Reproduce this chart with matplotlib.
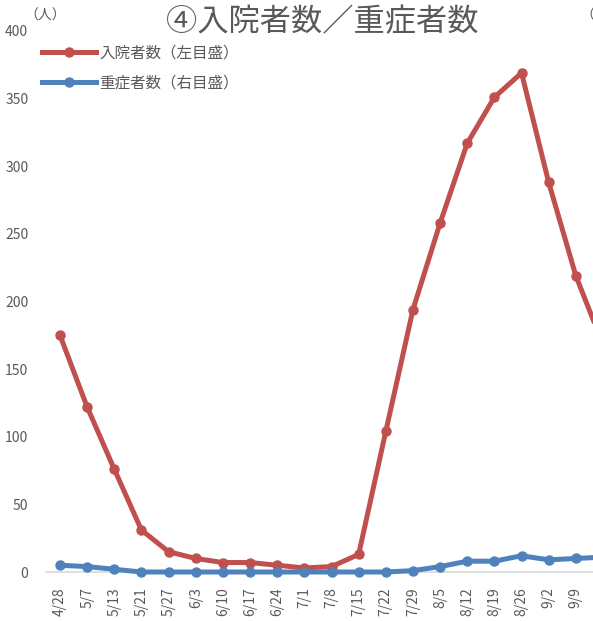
import matplotlib
matplotlib.use("Agg")
import matplotlib.pyplot as plt
from matplotlib.lines import Line2D

plt.rcParams['font.family'] = ['Noto Sans CJK JP', 'DejaVu Sans']

# Weekly figures
dates = ["4/28", "5/7", "5/13", "5/21", "5/27", "6/3", "6/10", "6/17", "6/24",
         "7/1", "7/8", "7/15", "7/22", "7/29", "8/5", "8/12", "8/19", "8/26",
         "9/2", "9/9", "9/16"]
hospitalized = [175, 122, 76, 31, 15, 10, 7, 7, 5, 3, 4, 13, 104, 194, 258,
                317, 351, 369, 288, 219, 168]
severe = [5, 4, 2, 0, 0, 0, 0, 0, 0, 0, 0, 0, 0, 1, 4, 8, 8, 12, 9, 10, 11]
y_ticks = [0, 50, 100, 150, 200, 250, 300, 350, 400]

RED = "#C0504D"
BLUE = "#4F81BD"
GRAY = "#595959"

W, H = 593, 621
fig = plt.figure(figsize=(W / 100, H / 100), dpi=100)

n = len(dates)
x0_px, step_px = 60, 27.15
left_px = x0_px - step_px / 2
right_px = left_px + step_px * n
bottom_px, top_px = 572, 31
ax = fig.add_axes([left_px / W, 1 - bottom_px / H,
                   (right_px - left_px) / W, (bottom_px - top_px) / H])
ax2 = ax.twinx()

xs = list(range(n))
ax.plot(xs, hospitalized, color=RED, lw=3.6, marker='o', ms=6.5,
        solid_capstyle='round', solid_joinstyle='round', clip_on=False)
ax2.plot(xs, severe, color=BLUE, lw=3.6, marker='o', ms=6.5,
         solid_capstyle='round', solid_joinstyle='round', clip_on=False)

for a in (ax, ax2):
    a.set_xlim(-0.5, n - 0.5)
    a.set_ylim(0, 400)
    for s in a.spines.values():
        s.set_visible(False)
    a.tick_params(length=0, colors=GRAY, labelsize=10)

ax.spines['bottom'].set_visible(True)
ax.spines['bottom'].set_color("#D9D9D9")
ax.spines['bottom'].set_linewidth(1.2)

ax.set_yticks(y_ticks)
ax.set_yticklabels([str(v) for v in y_ticks])
# secondary scale sits past the right edge of the canvas
ax2.set_yticks(y_ticks)
ax2.set_yticklabels([])
ax.set_xticks(xs)
ax.set_xticklabels(dates, rotation=90)
ax.get_xticklabels()[-1].set_visible(False)
ax.tick_params(axis='x', pad=11)
ax.tick_params(axis='y', pad=13)

fig.text(322 / W, 1 - 22 / H, "④入院者数／重症者数", ha='center', va='center',
         fontsize=22.5, color=GRAY)
fig.text(24 / W, 1 - 16 / H, "（人）", ha='left', va='center',
         fontsize=10, color=GRAY)
fig.text(580 / W, 1 - 16 / H, "（人）", ha='left', va='center',
         fontsize=10, color=GRAY)

handles = [Line2D([], [], color=RED, lw=3.6, marker='o', ms=6.5),
           Line2D([], [], color=BLUE, lw=3.6, marker='o', ms=6.5)]
labels = ["入院者数（左目盛）", "重症者数（右目盛）"]
fig.legend(handles, labels, loc='upper left',
           bbox_to_anchor=(31 / W, 1 - 34 / H), frameon=False,
           fontsize=11.2, handlelength=3.5, handletextpad=0.2,
           labelspacing=0.82, borderpad=0.2, labelcolor=GRAY)

fig.savefig("out.png", dpi=100)
